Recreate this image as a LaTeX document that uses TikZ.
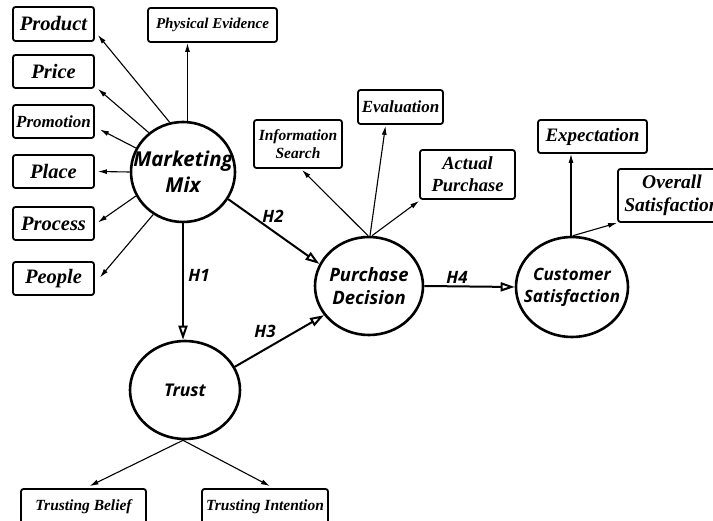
\documentclass[tikz,border=0pt]{standalone}
\usepackage{fontspec}
\setmainfont{Liberation Serif}
\setsansfont{Open Sans}
\usetikzlibrary{shapes.geometric,arrows.meta,calc}
\begin{document}
\begin{tikzpicture}[x=1pt,y=-1pt,
  box/.style 2 args={draw, line width=1.8pt, rounded corners=2.5pt, inner sep=0pt,
    align=center, font=\bfseries\itshape\fontsize{#1}{#2}\selectfont},
  construct/.style={ellipse, draw, line width=2.6pt, inner sep=0pt},
  ctext/.style 2 args={inner sep=0pt, align=center,
    font=\sffamily\bfseries\itshape\fontsize{#1}{#2}\selectfont},
  ind/.style={-{Latex[length=9pt,width=5pt]}, line width=1.1pt},
  hyp/.style={-{Triangle[open,length=14pt,width=9pt]}, line width=2pt},
  hlab/.style={font=\sffamily\bfseries\itshape\fontsize{17}{20}\selectfont, inner sep=0pt}]
\useasboundingbox (0,0) rectangle (713,521);

% constructs
\node[construct, minimum width=104pt, minimum height=100pt,
  label={[ctext={20.5}{26}]center:Marketing\\Mix}] (mm) at (183,172) {};
\node[construct, minimum width=110pt, minimum height=98pt,
  label={[ctext={17.5}{20}]center:Trust}] (trust) at (185,390) {};
\node[construct, minimum width=108pt, minimum height=98pt,
  label={[ctext={18.5}{23}]center:Purchase\\Decision}] (pd) at (369,286) {};
\node[construct, minimum width=112pt, minimum height=100pt,
  label={[ctext={17}{22}]center:Customer\\Satisfaction}] (cs) at (572,287) {};

% marketing mix indicators
\node[box={20.5}{24}, minimum width=81pt, minimum height=34pt] (product) at (53.5,24) {Product};
\node[box={20.5}{24}, minimum width=81pt, minimum height=33pt] (price) at (53.5,71.5) {Price};
\node[box={17}{20}, minimum width=81pt, minimum height=33pt] (promotion) at (53.5,121.5) {Promotion};
\node[box={20.5}{24}, minimum width=81pt, minimum height=33pt] (place) at (53.5,171.5) {Place};
\node[box={20.5}{24}, minimum width=81pt, minimum height=33pt] (process) at (53.5,223.5) {Process};
\node[box={20.5}{24}, minimum width=81pt, minimum height=33pt] (people) at (53.5,278.5) {People};
\node[box={15}{18}, minimum width=129pt, minimum height=34pt] (phys) at (212.5,25) {Physical Evidence};

% purchase decision indicators
\node[box={15.5}{18}, minimum width=88pt, minimum height=48pt] (info) at (298,144) {Information\\Search};
\node[box={17}{20}, minimum width=85pt, minimum height=34pt] (eval) at (400.5,107) {Evaluation};
\node[box={18.5}{22}, minimum width=95pt, minimum height=49pt] (actual) at (467.5,174.5) {Actual\\Purchase};

% customer satisfaction indicators
\node[box={19}{22}, minimum width=109pt, minimum height=33pt] (expect) at (592.5,136.5) {Expectation};
\node[box={19.5}{23}, minimum width=108pt, minimum height=53pt] (overall) at (672,195.5) {Overall\\Satisfaction};

% trust indicators
\node[box={15.5}{18}, minimum width=125pt, minimum height=36pt] (belief) at (83.5,507) {Trusting Belief};
\node[box={15.5}{18}, minimum width=126pt, minimum height=36pt] (intent) at (265,507) {Trusting Intention};

% indicator arrows
\draw[ind] (mm.105) -- ($(product.east)+(3,11)$);
\draw[ind] (mm.131) -- ($(price.south east)+(3,0)$);
\draw[ind] (mm.153) -- ($(promotion.east)+(5,8)$);
\draw[ind] (mm.180) -- ($(place.east)+(3,0)$);
\draw[ind] (mm.207) -- ($(process.east)+(3,-1)$);
\draw[ind] (mm.235) -- ($(people.east)+(5,-1)$);
\draw[ind] (mm.85) -- (mm.85 |- phys.south);

\draw[ind] ($(pd.north)+(-1,0)$) -- ($(info.south)+(4,1)$);
\draw[ind] ($(pd.north)+(1,0)$) -- ($(eval.south)+(-15,1)$);
\draw[ind] ($(pd.north)+(3,0)$) -- ($(actual.south west)+(0,1)$);

\coordinate (cstop) at ($(cs.north)+(-1,0)$);
\draw[ind] (cstop) -- (cstop |- expect.south);
\draw[ind] ($(cs.north)+(1,0)$) -- (overall.south west);

\draw[ind] ($(trust.south)+(-2,0)$) -- ($(belief.north)+(6,-2)$);
\draw[ind] ($(trust.south)+(-2,0)$) -- ($(intent.north)+(5,-2)$);

% hypotheses
\draw[hyp] (mm.south) -- (mm.south |- trust.north);
\draw[hyp] (mm.-31) -- (pd.156);
\draw[hyp] (trust.25) -- (pd.213);
\draw[hyp] (pd.east) -- (cs.west);

\node[hlab] (h1) at (199,275) {H1};
\node[hlab] (h2) at (273,216) {H2};
\node[hlab] (h3) at (265,331) {H3};
\node[hlab] (h4) at (457,277) {H4};
\end{tikzpicture}
\end{document}
